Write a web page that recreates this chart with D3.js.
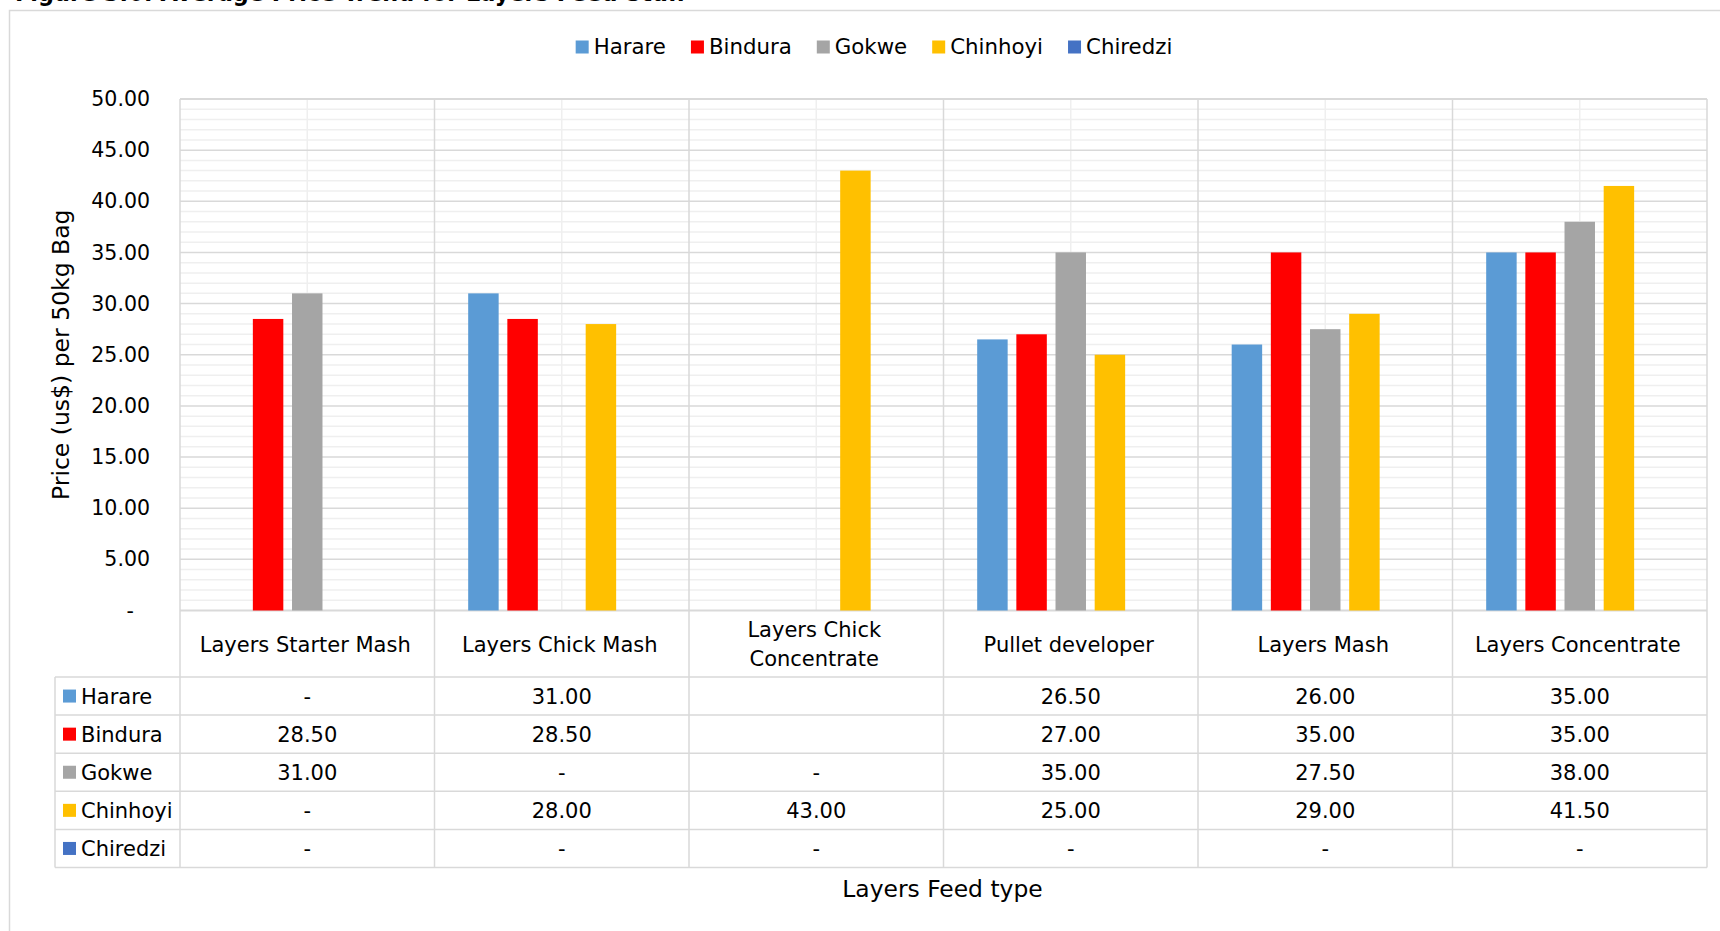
<!DOCTYPE html>
<html><head><meta charset="utf-8">
<script src="https://cdn.jsdelivr.net/npm/d3@7"></script>
<style>
body{margin:0;background:#fff}
text{font-family:"DejaVu Sans",Verdana,sans-serif;fill:#000}
</style>
</head><body>
<svg id="chart" width="1720" height="931"></svg>
<script>
// ---- data ----
const categories = ["Layers Starter Mash","Layers Chick Mash","Layers Chick Concentrate","Pullet developer","Layers Mash","Layers Concentrate"];
const seriesNames = ["Harare","Bindura","Gokwe","Chinhoyi","Chiredzi"];
const harare   = [0, 31.0, null, 26.5, 26.0, 35.0];
const bindura  = [28.5, 28.5, null, 27.0, 35.0, 35.0];
const gokwe    = [31.0, 0, 0, 35.0, 27.5, 38.0];
const chinhoyi = [0, 28.0, 43.0, 25.0, 29.0, 41.5];
const chiredzi = [0, 0, 0, 0, 0, 0];
const seriesColors = ["#5B9BD5","#FF0000","#A5A5A5","#FFC000","#4472C4"];
const yTickValues = [0,5,10,15,20,25,30,35,40,45,50];
const titleText = "Figure 3.6: Average Price Trend for Layers Feed Stuff";
const yAxisTitle = "Price (us$) per 50kg Bag";
const xAxisTitle = "Layers Feed type";

const seriesValues = [harare, bindura, gokwe, chinhoyi, chiredzi];

// ---- layout ----
const svg = d3.select("#chart");
const plotL = 180, plotR = 1707, plotT = 99, plotB = 610.5;
const headerB = 677, rowH = 38.1, tableL = 55;
const tableB = headerB + rowH * seriesNames.length;
const fs = 21;
const gridMajor = "#d9d9d9", gridMinor = "#efefef";

const x0 = d3.scaleBand().domain(categories).range([plotL, plotR]).padding(0);
const x1 = d3.scaleBand().domain(seriesNames).range([0, x0.bandwidth()]).paddingInner(0.222).paddingOuter(0.86);
const y = d3.scaleLinear().domain([0, 50]).range([plotB, plotT]);
const color = d3.scaleOrdinal().domain(seriesNames).range(seriesColors);

// outer border
svg.append("rect").attr("x", 9.5).attr("y", 10.5).attr("width", 1730).attr("height", 940)
  .attr("fill", "none").attr("stroke", "#d9d9d9").attr("stroke-width", 1.5);

// title (cut off at the top edge, as in the source image)
svg.append("text").attr("x", 15).attr("y", 0.5).attr("font-weight", "bold").attr("font-size", 22.4).text(titleText);

// minor horizontal gridlines
const minor = d3.range(0, 51, 1).filter(v => v % 5 !== 0);
svg.append("g").selectAll("line").data(minor).join("line")
  .attr("x1", plotL).attr("x2", plotR).attr("y1", d => y(d)).attr("y2", d => y(d))
  .attr("stroke", gridMinor).attr("stroke-width", 1.5);
// minor vertical (category centres)
svg.append("g").selectAll("line").data(categories).join("line")
  .attr("x1", d => x0(d) + x0.bandwidth()/2).attr("x2", d => x0(d) + x0.bandwidth()/2)
  .attr("y1", plotT).attr("y2", plotB)
  .attr("stroke", gridMinor).attr("stroke-width", 1.5);
// major horizontal
svg.append("g").selectAll("line").data(yTickValues).join("line")
  .attr("x1", plotL).attr("x2", plotR).attr("y1", d => y(d)).attr("y2", d => y(d))
  .attr("stroke", gridMajor).attr("stroke-width", d => (d === 50 || d === 0) ? 2 : 1.5);
// major vertical (category boundaries) through plot and table
const bounds = categories.map(c => x0(c)).concat([plotR]);
svg.append("g").selectAll("line").data(bounds).join("line")
  .attr("x1", d => d).attr("x2", d => d).attr("y1", plotT).attr("y2", tableB)
  .attr("stroke", gridMajor).attr("stroke-width", 1.5);

// bars
const barData = [];
categories.forEach((c, i) => seriesNames.forEach((s, j) => {
  const v = seriesValues[j][i];
  if (v) barData.push({c, s, v});
}));
svg.append("g").selectAll("rect").data(barData).join("rect")
  .attr("x", d => x0(d.c) + x1(d.s)).attr("width", x1.bandwidth())
  .attr("y", d => y(d.v)).attr("height", d => y(0) - y(d.v))
  .attr("fill", d => color(d.s));

// y axis
const yAxis = svg.append("g").attr("transform", `translate(${plotL},0)`)
  .call(d3.axisLeft(y).tickValues(yTickValues).tickSize(0).tickPadding(30)
    .tickFormat(d => d === 0 ? "-" : d3.format(".2f")(d)));
yAxis.select(".domain").remove();
yAxis.selectAll("text").attr("font-size", 20.5).attr("fill", "#000")
  .attr("font-family", '"DejaVu Sans",Verdana,sans-serif')
  .attr("dx", d => d === 0 ? -16 : 0);

// y title
svg.append("text").attr("transform", `translate(61,${(plotT+plotB)/2}) rotate(-90)`)
  .attr("text-anchor", "middle").attr("dominant-baseline", "central")
  .attr("font-size", 23.5).text(yAxisTitle);

// ---- data table ----
const tg = svg.append("g");
const rowLines = d3.range(0, seriesNames.length + 1).map(k => headerB + k * rowH);
tg.selectAll("line.h").data(rowLines).join("line").attr("class", "h")
  .attr("x1", tableL).attr("x2", plotR).attr("y1", d => d).attr("y2", d => d)
  .attr("stroke", gridMajor).attr("stroke-width", 1.5);
tg.append("line").attr("x1", tableL).attr("x2", tableL)
  .attr("y1", headerB).attr("y2", tableB).attr("stroke", gridMajor).attr("stroke-width", 1.5);

// header labels with wrapping
categories.forEach(c => {
  const cx = x0(c) + x0.bandwidth()/2 - 2;
  const t = tg.append("text").attr("x", cx).attr("text-anchor", "middle").attr("font-size", fs).text(c);
  const w = t.node().getComputedTextLength();
  const midY = (plotB + headerB) / 2 + 0.5;
  if (w > x0.bandwidth() - 14) {
    t.text(null);
    const words = c.split(" ");
    const l2 = words.pop();
    const lines = [words.join(" "), l2];
    lines.forEach((ln, k) => t.append("tspan").attr("x", cx)
      .attr("y", midY + (k - 0.5) * 28.5).attr("dy", "0.35em").text(ln));
  } else {
    t.attr("y", midY).attr("dy", "0.35em");
  }
});

// rows
seriesNames.forEach((s, j) => {
  const cy = headerB + j * rowH + rowH / 2 + 0.5;
  tg.append("rect").attr("x", 63).attr("y", cy - 7).attr("width", 13).attr("height", 13).attr("fill", color(s));
  tg.append("text").attr("x", 81).attr("y", cy).attr("dy", "0.35em").attr("font-size", fs).text(s);
  categories.forEach((c, i) => {
    const v = seriesValues[j][i];
    const label = v === null ? "" : (v === 0 ? "-" : d3.format(".2f")(v));
    tg.append("text").attr("x", x0(c) + x0.bandwidth()/2).attr("y", cy).attr("dy", "0.35em")
      .attr("text-anchor", "middle").attr("font-size", fs).text(label);
  });
});

// x title
svg.append("text").attr("x", (plotL + plotR) / 2 - 1).attr("y", 889).attr("dy", "0.35em")
  .attr("text-anchor", "middle").attr("font-size", 23.4).text(xAxisTitle);

// legend
const lg = svg.append("g");
let lx = 0;
seriesNames.forEach(s => {
  const g = lg.append("g").attr("transform", `translate(${lx},0)`);
  g.append("rect").attr("x", 0).attr("y", -6.5).attr("width", 13).attr("height", 13).attr("fill", color(s));
  const t = g.append("text").attr("x", 18).attr("dy", "0.35em").attr("font-size", 21.3).text(s);
  lx += 18 + t.node().getComputedTextLength() + 25;
});
const lw = lx - 25;
lg.attr("transform", `translate(${874 - lw/2},47)`);
</script>
</body></html>
